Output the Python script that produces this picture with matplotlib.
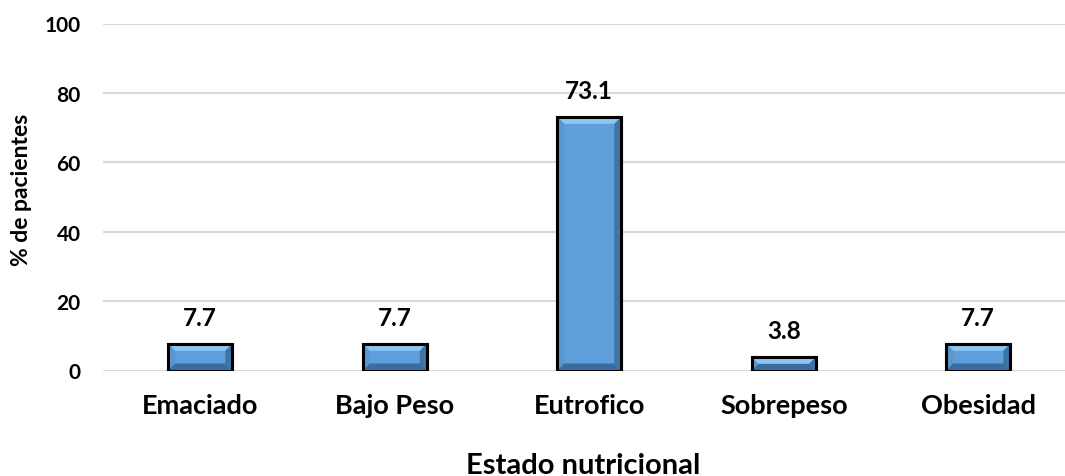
import matplotlib
matplotlib.use("Agg")
import matplotlib.pyplot as plt
from matplotlib.patches import Polygon, Rectangle

categories = ["Emaciado", "Bajo Peso", "Eutrofico", "Sobrepeso", "Obesidad"]
values = [7.7, 7.7, 73.1, 3.8, 7.7]
value_labels = ["7.7", "7.7", "73.1", "3.8", "7.7"]
yticks = [0, 20, 40, 60, 80, 100]

W, H = 1065, 477
fig = plt.figure(figsize=(W / 100, H / 100), dpi=100)
left_px, right_px = 103, 1065
top_px, bot_px = 24.5, 371.5
ax = fig.add_axes([left_px / W, 1 - bot_px / H, (right_px - left_px) / W, (bot_px - top_px) / H])

slot = 194.5
xmax = -0.5 + (right_px - left_px) / slot
ax.set_xlim(-0.5, xmax)
ax.set_ylim(0, 100)

font = "Lato"
bw = 0.33
xs = list(range(len(categories)))
ax.bar(xs, values, width=bw, color="#5e9edb", edgecolor="black", linewidth=2.2, zorder=3)

# bevel effect
px_x = 1 / slot
px_y = 100 / (bot_px - top_px)
bv = 7
for x, v in zip(xs, values):
    x0, x1 = x - bw / 2, x + bw / 2
    dx = bv * px_x
    dy = min(bv * px_y, v / 2)
    top = [(x0, v), (x1, v), (x1 - dx, v - dy), (x0 + dx, v - dy)]
    bot = [(x0, 0), (x1, 0), (x1 - dx, dy), (x0 + dx, dy)]
    lft = [(x0, 0), (x0, v), (x0 + dx, v - dy), (x0 + dx, dy)]
    rgt = [(x1, 0), (x1, v), (x1 - dx, v - dy), (x1 - dx, dy)]
    ax.add_patch(Polygon(top, closed=True, facecolor="#8ec6f2", edgecolor="none", zorder=4))
    ax.add_patch(Polygon(lft, closed=True, facecolor="#5a97cf", edgecolor="none", zorder=4))
    ax.add_patch(Polygon(rgt, closed=True, facecolor="#3f74a6", edgecolor="none", zorder=4))
    ax.add_patch(Polygon(bot, closed=True, facecolor="#3a6d9e", edgecolor="none", zorder=4))
    ax.add_patch(Rectangle((x0, 0), bw, v, facecolor="none", edgecolor="black", linewidth=2.2, zorder=5))

for x, v, lab in zip(xs, values, value_labels):
    ax.annotate(lab, (x, v), xytext=(0, 11), textcoords="offset points", ha="center", va="bottom",
                fontsize=17.5, fontweight="bold", family=font, color="black")

ax.set_yticks(yticks)
ax.set_yticklabels([str(t) for t in yticks], fontsize=15, fontweight="bold", family=font)
ax.set_xticks(xs)
ax.set_xticklabels(categories, fontsize=19.5, fontweight="bold", family=font)
ax.tick_params(axis="both", length=0)
ax.tick_params(axis="y", pad=16)
ax.tick_params(axis="x", pad=16)
ax.grid(axis="y", color="#d9d9d9", linewidth=1.5, zorder=0)
ax.set_axisbelow(True)
for s in ax.spines.values():
    s.set_visible(False)

fig.text(22 / W, 1 - 190 / H, "% de pacientes", ha="center", va="center", rotation=90,
         fontsize=16.5, fontweight="bold", family=font)
fig.text(583 / W, 1 - 474 / H, "Estado nutricional", ha="center", va="baseline",
         fontsize=21, fontweight="bold", family=font)

fig.savefig("out.png", dpi=100)
